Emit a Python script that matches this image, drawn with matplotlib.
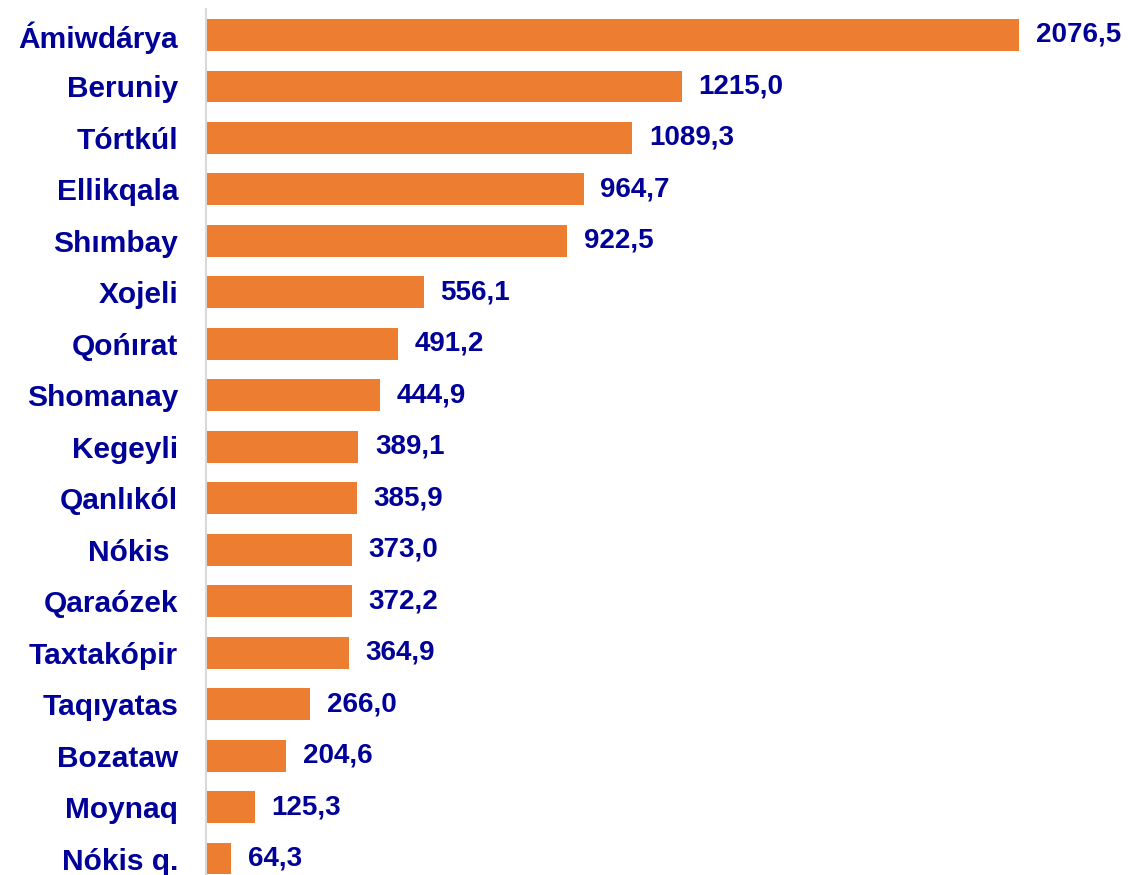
import numpy as np
import matplotlib.pyplot as plt

# Districts and values (top to bottom)
districts = ['Ámiwdárya', 'Beruniy', 'Tórtkúl', 'Ellikqala', 'Shımbay', 'Xojeli',
             'Qońırat', 'Shomanay', 'Kegeyli', 'Qanlıkól', 'Nókis ', 'Qaraózek',
             'Taxtakópir', 'Taqıyatas', 'Bozataw', 'Moynaq', 'Nókis q.']
values = [2076.5, 1215.0, 1089.3, 964.7, 922.5, 556.1, 491.2, 444.9, 389.1,
          385.9, 373.0, 372.2, 364.9, 266.0, 204.6, 125.3, 64.3]
value_labels = [f'{v:.1f}'.replace('.', ',') for v in values]

bar_color = '#ED7D31'
text_color = '#000099'

plt.rcParams['font.family'] = ['Liberation Sans', 'DejaVu Sans']

fig = plt.figure(figsize=(11.28, 8.75), dpi=100)
# axes placed in pixel terms: left edge at x=206, rows 51.5 px apart
W, H = 1128, 875
row = 51.47
top_px = 35 - row / 2
bottom_px = top_px + row * len(districts)
ax = fig.add_axes([206 / W, 1 - bottom_px / H, (W - 206) / W, (bottom_px - top_px) / H])

y = np.arange(len(districts))
ax.barh(y, values, height=0.62, color=bar_color)
ax.set_ylim(len(districts) - 0.5, -0.5)
ax.set_xlim(0, (W - 206) / (813 / 2076.5))

ax.set_yticks(y)
ax.set_yticklabels(districts, fontsize=21.5, fontweight='bold', color=text_color)
ax.tick_params(axis='y', length=0, pad=20)
ax.set_xticks([])

for i, v in enumerate(values):
    ax.annotate(value_labels[i], (v, i), xytext=(12, 0), textcoords='offset points',
                ha='left', va='center', fontsize=20, fontweight='bold', color=text_color)

for s in ['top', 'right', 'bottom']:
    ax.spines[s].set_visible(False)
ax.spines['left'].set_color('#D9D9D9')
ax.spines['left'].set_linewidth(1.5)

fig.savefig('out.png', dpi=100)
